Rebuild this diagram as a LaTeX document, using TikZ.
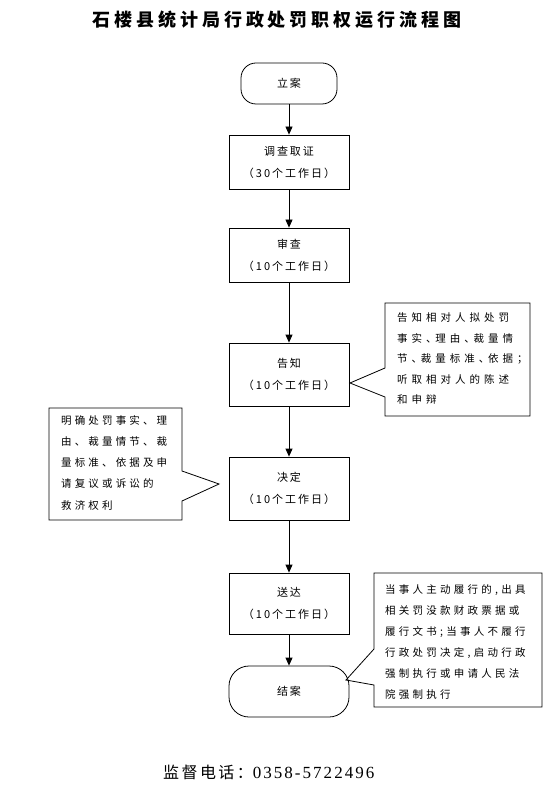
\documentclass[tikz,border=0pt]{standalone}
\usepackage{fontspec}
\setmainfont{Noto Sans CJK SC}
\newfontfamily\titlefont[LetterSpace=22]{Noto Sans CJK SC}
\newfontfamily\boxfont[LetterSpace=18]{Noto Sans CJK SC}
\newfontfamily\cfonta[LetterSpace=38,RawFeature=+halt]{Noto Sans CJK SC}
\newfontfamily\cfontb[LetterSpace=30]{Noto Sans CJK SC}
\newfontfamily\cfontc[LetterSpace=31]{Noto Sans CJK SC}
\newfontfamily\phonefont[LetterSpace=15]{Noto Sans CJK SC}
\newfontfamily\phonedig[LetterSpace=12]{Liberation Serif}
\usetikzlibrary{arrows.meta}
\tikzset{
  stepbox/.style={draw, line width=0.8pt, minimum width=120pt, align=center, inner sep=0pt,
    font=\boxfont\fontsize{11}{22}\selectfont},
  termbox/.style={stepbox, rounded corners=18pt},
  flow/.style={draw, line width=0.8pt, -{Triangle[length=8pt,width=7pt]}},
  callshape/.style={draw, line width=0.8pt},
  calltext/.style={anchor=west, align=left, inner sep=0pt}
}
\begin{document}
\begin{tikzpicture}[x=1pt,y=-1pt]
\useasboundingbox[fill=white] (0,0) rectangle (554,791);
% title
\node[font=\titlefont\bfseries\fontsize{18}{20}\selectfont] (title) at (277,20) {石楼县统计局行政处罚职权运行流程图};
% flow nodes
\node[termbox, minimum width=96pt, minimum height=41pt, rounded corners=15pt] (lian) at (289,83.5) {立案};
\node[stepbox, minimum height=54pt] (diaocha) at (289,162) {调查取证\\（30个工作日）};
\node[stepbox, minimum height=54pt] (shencha) at (289,255) {审查\\（10个工作日）};
\node[stepbox, minimum height=63pt] (gaozhi) at (289,374.5) {告知\\（10个工作日）};
\node[stepbox, minimum height=63pt] (jueding) at (289,488.5) {决定\\（10个工作日）};
\node[stepbox, minimum height=61pt] (songda) at (289,603.5) {送达\\（10个工作日）};
\node[termbox, minimum height=51pt, rounded corners=20pt] (jiean) at (289,691.5) {结案};
% connectors
\draw[flow] (lian) -- (diaocha);
\draw[flow] (diaocha) -- (shencha);
\draw[flow] (shencha) -- (gaozhi);
\draw[flow] (gaozhi) -- (jueding);
\draw[flow] (jueding) -- (songda);
\draw[flow] (songda) -- (jiean);
% callout 1
\coordinate (tipa) at (350,383);
\draw[callshape] (385,303) -- (530,303) -- (530,416) -- (385,416) -- (385,397) -- (tipa) -- (385,368) -- cycle;
\node[calltext, font=\cfonta\fontsize{10.5}{20.5}\selectfont] (ca) at (397,359)
  {告知相对人拟处罚\\事实、理由、裁量情\\节、裁量标准、依据；\\听取相对人的陈述\\和申辩};
% callout 2
\coordinate (tipb) at (219,484);
\draw[callshape] (49,408) -- (182,408) -- (182,471) -- (tipb) -- (182,501) -- (182,520) -- (49,520) -- cycle;
\node[calltext, font=\cfontb\fontsize{10.5}{21.25}\selectfont] (cb) at (61,462.5)
  {明确处罚事实、理\\由、裁量情节、裁\\量标准、依据及申\\请复议或诉讼的\\救济权利};
% callout 3
\coordinate (tipc) at (346,680);
\draw[callshape] (374,573) -- (542,573) -- (542,707) -- (374,707) -- (374,685) -- (tipc) -- (374,649) -- cycle;
\node[calltext, font=\cfontc\fontsize{10.5}{21}\selectfont] (cc) at (385,642.5)
  {当事人主动履行的,出具\\相关罚没款财政票据或\\履行文书;当事人不履行\\行政处罚决定,启动行政\\强制执行或申请人民法\\院强制执行};
% phone
\node[anchor=west, inner sep=0pt] (phone) at (163,772)
  {\phonefont\fontsize{16}{18}\selectfont 监督电话：\phonedig\fontsize{17}{18}\selectfont 0358-5722496};
\end{tikzpicture}
\end{document}
